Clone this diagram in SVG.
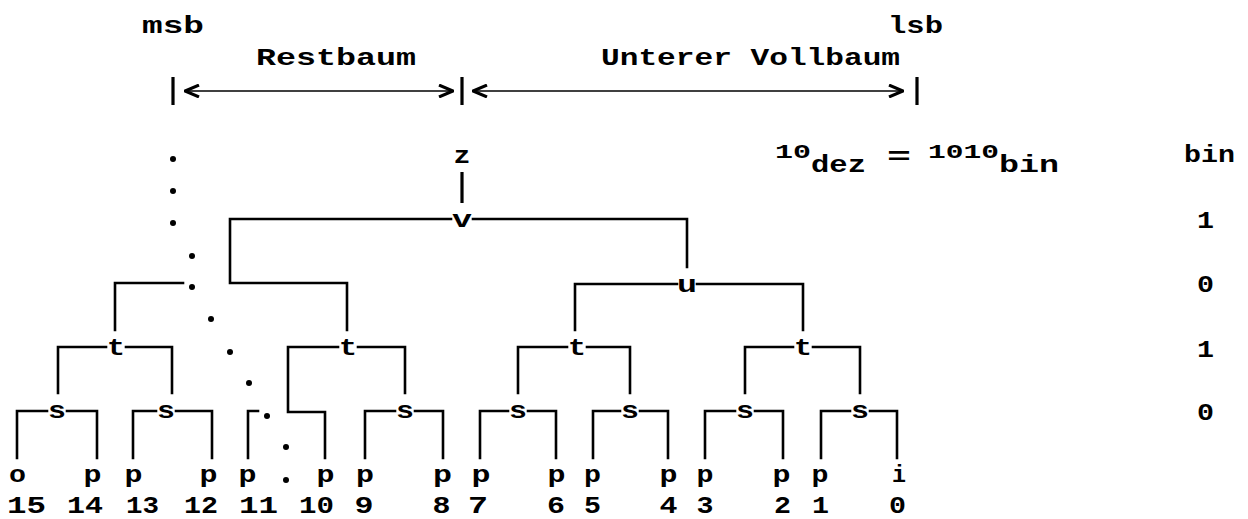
<svg xmlns="http://www.w3.org/2000/svg" width="1248" height="519" viewBox="0 0 1248 519">
  <style>
    text { font-family: "Liberation Mono", "Courier New", monospace; font-weight: bold; font-size: 24px; fill: #000; }
    .c { text-anchor: middle; }
    .sm { font-size: 20px; }
    .ln { fill: none; stroke: #000; stroke-width: 2.6; stroke-linecap: square; }
    .thin { fill: none; stroke: #000; stroke-width: 1.6; }
    .bar { stroke: #000; stroke-width: 3.2; }
    .dot { fill: #000; }
  </style>
  <defs>
    <marker id="openHead" viewBox="0 0 16 14" refX="15" refY="7" markerWidth="16" markerHeight="14" markerUnits="userSpaceOnUse" orient="auto-start-reverse">
      <polyline points="1,1 15,7 1,13" fill="none" stroke="#000" stroke-width="3"/>
    </marker>
  </defs>

  <!-- header: bit order and subtree ranges -->
  <g id="header">
    <text x="142" y="33" textLength="62" lengthAdjust="spacingAndGlyphs">msb</text>
    <text x="888" y="33" textLength="55" lengthAdjust="spacingAndGlyphs">lsb</text>
    <text x="256" y="65" textLength="160" lengthAdjust="spacingAndGlyphs">Restbaum</text>
    <text x="601" y="65" textLength="299" lengthAdjust="spacingAndGlyphs">Unterer Vollbaum</text>
    <line class="bar" x1="173" y1="77" x2="173" y2="105"/>
    <line class="bar" x1="462" y1="77" x2="462" y2="105"/>
    <line class="bar" x1="917" y1="77" x2="917" y2="105"/>
    <line class="thin" x1="185" y1="91" x2="453" y2="91" marker-start="url(#openHead)" marker-end="url(#openHead)"/>
    <line class="thin" x1="473" y1="91" x2="903" y2="91" marker-start="url(#openHead)" marker-end="url(#openHead)"/>
  </g>

  <!-- value of the index: decimal and binary -->
  <g id="value">
    <text class="sm" x="775" y="158" textLength="36" lengthAdjust="spacingAndGlyphs">10</text>
    <text x="811" y="172" textLength="55" lengthAdjust="spacingAndGlyphs">dez</text>
    <text x="887" y="164" textLength="24" lengthAdjust="spacingAndGlyphs">=</text>
    <text class="sm" x="928" y="158" textLength="71" lengthAdjust="spacingAndGlyphs">1010</text>
    <text x="999" y="172" textLength="60" lengthAdjust="spacingAndGlyphs">bin</text>
  </g>

  <!-- bit column -->
  <g id="bits">
    <text x="1184" y="162" textLength="51" lengthAdjust="spacingAndGlyphs">bin</text>
    <text class="c" x="1205.5" y="228" textLength="17" lengthAdjust="spacingAndGlyphs">1</text>
    <text class="c" x="1205.5" y="292" textLength="17" lengthAdjust="spacingAndGlyphs">0</text>
    <text class="c" x="1205.5" y="357" textLength="17" lengthAdjust="spacingAndGlyphs">1</text>
    <text class="c" x="1205.5" y="420" textLength="17" lengthAdjust="spacingAndGlyphs">0</text>
  </g>

  <!-- connectors of the tree -->
  <g id="connectors">
    <!-- z to v -->
    <line class="bar" x1="462" y1="172" x2="462" y2="203"/>
    <!-- v -->
    <path class="ln" d="M451 219 H230 V283 H347 V330 M473 219 H687 V267"/>
    <!-- branch leading into the dotted left part -->
    <path class="ln" d="M183 283 H115 V330"/>
    <!-- u -->
    <path class="ln" d="M677 284 H575 V330 M697 284 H803 V330"/>
    <!-- t nodes -->
    <path class="ln" d="M106 347 H58 V393 M126 347 H172 V393"/>
    <path class="ln" d="M338 347 H288 V412 H325 V458 M358 347 H405 V393"/>
    <path class="ln" d="M567 347 H518 V393 M587 347 H630 V393"/>
    <path class="ln" d="M793 347 H745 V393 M813 347 H860 V393"/>
    <!-- s nodes -->
    <path class="ln" d="M47 411 H17 V458 M67 411 H97 V458"/>
    <path class="ln" d="M156 411 H133 V458 M176 411 H212 V458"/>
    <path class="ln" d="M258 411 H248 V458"/>
    <path class="ln" d="M395 411 H365 V458 M415 411 H443 V458"/>
    <path class="ln" d="M508 411 H480 V458 M528 411 H556 V458"/>
    <path class="ln" d="M620 411 H593 V458 M640 411 H668 V458"/>
    <path class="ln" d="M735 411 H705 V458 M755 411 H783 V458"/>
    <path class="ln" d="M850 411 H821 V458 M870 411 H897 V458"/>
  </g>

  <!-- dotted path of the remaining upper levels -->
  <g id="ellipsis">
    <circle class="dot" cx="173" cy="159" r="3"/>
    <circle class="dot" cx="173" cy="191" r="3"/>
    <circle class="dot" cx="173" cy="223" r="3"/>
    <circle class="dot" cx="192" cy="256" r="3"/>
    <circle class="dot" cx="192" cy="287" r="3"/>
    <circle class="dot" cx="211" cy="319" r="3"/>
    <circle class="dot" cx="230" cy="352" r="3"/>
    <circle class="dot" cx="249" cy="383" r="3"/>
    <circle class="dot" cx="267" cy="416" r="3"/>
    <circle class="dot" cx="286" cy="447" r="3"/>
    <circle class="dot" cx="286" cy="480" r="3"/>
  </g>

  <!-- inner nodes -->
  <g id="node-z"><text class="c" x="462" y="163" textLength="17" lengthAdjust="spacingAndGlyphs">z</text></g>
  <g id="node-v"><text class="c" x="462" y="227" textLength="20" lengthAdjust="spacingAndGlyphs">v</text></g>
  <g id="node-u"><text class="c" x="687" y="292" textLength="20" lengthAdjust="spacingAndGlyphs">u</text></g>
  <g id="node-t1"><text class="c" x="116" y="355" textLength="18" lengthAdjust="spacingAndGlyphs">t</text></g>
  <g id="node-t2"><text class="c" x="348" y="355" textLength="18" lengthAdjust="spacingAndGlyphs">t</text></g>
  <g id="node-t3"><text class="c" x="577" y="355" textLength="18" lengthAdjust="spacingAndGlyphs">t</text></g>
  <g id="node-t4"><text class="c" x="803" y="355" textLength="18" lengthAdjust="spacingAndGlyphs">t</text></g>
  <g id="node-s1"><text class="c" x="57" y="418" textLength="18" lengthAdjust="spacingAndGlyphs">s</text></g>
  <g id="node-s2"><text class="c" x="166" y="418" textLength="18" lengthAdjust="spacingAndGlyphs">s</text></g>
  <g id="node-s3"><text class="c" x="405" y="418" textLength="18" lengthAdjust="spacingAndGlyphs">s</text></g>
  <g id="node-s4"><text class="c" x="518" y="418" textLength="18" lengthAdjust="spacingAndGlyphs">s</text></g>
  <g id="node-s5"><text class="c" x="630" y="418" textLength="18" lengthAdjust="spacingAndGlyphs">s</text></g>
  <g id="node-s6"><text class="c" x="745" y="418" textLength="18" lengthAdjust="spacingAndGlyphs">s</text></g>
  <g id="node-s7"><text class="c" x="860" y="418" textLength="18" lengthAdjust="spacingAndGlyphs">s</text></g>

  <!-- leaves with their indices -->
  <g id="leaf-15"><text class="c" x="17.5" y="482" textLength="17" lengthAdjust="spacingAndGlyphs">o</text><text class="c" x="26.5" y="513" textLength="39" lengthAdjust="spacingAndGlyphs">15</text></g>
  <g id="leaf-14"><text class="c" x="92.5" y="482" textLength="18" lengthAdjust="spacingAndGlyphs">p</text><text class="c" x="85" y="513" textLength="36" lengthAdjust="spacingAndGlyphs">14</text></g>
  <g id="leaf-13"><text class="c" x="133.5" y="482" textLength="18" lengthAdjust="spacingAndGlyphs">p</text><text class="c" x="142.5" y="513" textLength="33" lengthAdjust="spacingAndGlyphs">13</text></g>
  <g id="leaf-12"><text class="c" x="208.5" y="482" textLength="18" lengthAdjust="spacingAndGlyphs">p</text><text class="c" x="201" y="513" textLength="34" lengthAdjust="spacingAndGlyphs">12</text></g>
  <g id="leaf-11"><text class="c" x="247.5" y="482" textLength="18" lengthAdjust="spacingAndGlyphs">p</text><text class="c" x="258.5" y="513" textLength="39" lengthAdjust="spacingAndGlyphs">11</text></g>
  <g id="leaf-10"><text class="c" x="325.5" y="482" textLength="18" lengthAdjust="spacingAndGlyphs">p</text><text class="c" x="316.5" y="513" textLength="35" lengthAdjust="spacingAndGlyphs">10</text></g>
  <g id="leaf-9"><text class="c" x="365" y="482" textLength="18" lengthAdjust="spacingAndGlyphs">p</text><text class="c" x="364" y="513" textLength="19" lengthAdjust="spacingAndGlyphs">9</text></g>
  <g id="leaf-8"><text class="c" x="442.5" y="482" textLength="19" lengthAdjust="spacingAndGlyphs">p</text><text class="c" x="441.5" y="513" textLength="18" lengthAdjust="spacingAndGlyphs">8</text></g>
  <g id="leaf-7"><text class="c" x="481" y="482" textLength="19" lengthAdjust="spacingAndGlyphs">p</text><text class="c" x="478" y="513" textLength="20" lengthAdjust="spacingAndGlyphs">7</text></g>
  <g id="leaf-6"><text class="c" x="556.5" y="482" textLength="18" lengthAdjust="spacingAndGlyphs">p</text><text class="c" x="556" y="513" textLength="18" lengthAdjust="spacingAndGlyphs">6</text></g>
  <g id="leaf-5"><text class="c" x="592.5" y="482" textLength="17" lengthAdjust="spacingAndGlyphs">p</text><text class="c" x="592.5" y="513" textLength="17" lengthAdjust="spacingAndGlyphs">5</text></g>
  <g id="leaf-4"><text class="c" x="668.5" y="482" textLength="18" lengthAdjust="spacingAndGlyphs">p</text><text class="c" x="668.5" y="513" textLength="18" lengthAdjust="spacingAndGlyphs">4</text></g>
  <g id="leaf-3"><text class="c" x="705" y="482" textLength="17" lengthAdjust="spacingAndGlyphs">p</text><text class="c" x="705" y="513" textLength="17" lengthAdjust="spacingAndGlyphs">3</text></g>
  <g id="leaf-2"><text class="c" x="781.5" y="482" textLength="18" lengthAdjust="spacingAndGlyphs">p</text><text class="c" x="782.5" y="513" textLength="17" lengthAdjust="spacingAndGlyphs">2</text></g>
  <g id="leaf-1"><text class="c" x="820" y="482" textLength="17" lengthAdjust="spacingAndGlyphs">p</text><text class="c" x="820.5" y="513" textLength="17" lengthAdjust="spacingAndGlyphs">1</text></g>
  <g id="leaf-0"><text class="c" x="899" y="482" textLength="14" lengthAdjust="spacingAndGlyphs">i</text><text class="c" x="897.5" y="513" textLength="17" lengthAdjust="spacingAndGlyphs">0</text></g>
</svg>
